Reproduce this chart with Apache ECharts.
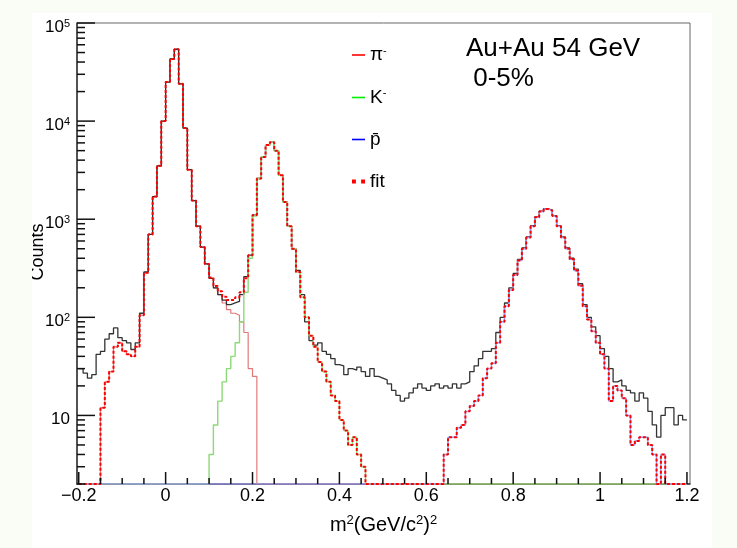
<!DOCTYPE html>
<html>
<head>
<meta charset="utf-8">
<script src="https://cdn.jsdelivr.net/npm/echarts@6/dist/echarts.min.js"></script>
<style>
html, body { margin: 0; padding: 0; background: #fafdf5; }
#chart_1 { width: 737px; height: 548px; }
</style>
</head>
<body>
<div id="chart_1"></div>
<script>
// m^2 histogram, bins of 0.01 from -0.2 to 1.2 (left edges)
const BIN_START = -0.2;
const BIN_WIDTH = 0.01;
const FLOOR = 2; // empty bins drawn on the x axis
const X_MIN = -0.204;
const X_MAX = 1.207;
const Y_MAX = 100000;

const datos = [
30,27,24,26,42,45,60,68,78,62,
58,55,47,55,110,290,700,1700,3500,10000,
25000,43000,54000,24000,8500,3200,1550,850,520,350,
250,200,170,150,135,140,145,170,260,430,
1100,2600,4300,5700,6100,5000,2800,1500,850,500,
300,170,90,58,52,55,45,42,38,33,
32,26,30,29,31,28,25,30,25,24,
23,21,18,16,14,15,17,19,21,19,
18,20,21,19,20,19,21,19,21,22,
28,32,38,45,45,48,70,100,140,200,
280,390,510,660,860,1060,1210,1280,1240,1090,
860,660,510,400,310,220,135,100,80,65,
48,40,30,22,23,20,18,17,14,17,
15,11,8,6,10,12,12,8,10,9];

const pion = [
0,0,0,0,0,12,22,28,50,55,
45,42,40,50,105,285,700,1700,3500,10000,
25000,43000,54000,24000,8500,3200,1550,850,520,350,
250,200,170,140,120,110,105,90,70,30,
25,0,0,0,0,0,0,0,0,0,
0,0,0,0,0,0,0,0,0,0,
0,0,0,0,0,0,0,0,0,0,
0,0,0,0,0,0,0,0,0,0,
0,0,0,0,0,0,0,0,0,0,
0,0,0,0,0,0,0,0,0,0,
0,0,0,0,0,0,0,0,0,0,
0,0,0,0,0,0,0,0,0,0,
0,0,0,0,0,0,0,0,0,0,
0,0,0,0,0,0,0,0,0,0];

const kaon = [
0,0,0,0,0,0,0,0,0,0,
0,0,0,0,0,0,0,0,0,0,
0,0,0,0,0,0,0,0,0,0,
4,8,14,22,30,40,55,90,180,400,
1080,2600,4300,5700,6100,5000,2800,1500,850,500,
290,160,100,65,50,35,28,22,16,14,
9,7,5,6,4,3,0,0,0,0,
0,0,0,0,0,0,0,0,0,0,
0,0,0,0,0,0,0,0,0,0,
0,0,0,0,0,0,0,0,0,0,
0,0,0,0,0,0,0,0,0,0,
0,0,0,0,0,0,0,0,0,0,
0,0,0,0,0,0,0,0,0,0,
0,0,0,0,0,0,0,0,0,0];

const protonbar = [
0,0,0,0,0,0,0,0,0,0,
0,0,0,0,0,0,0,0,0,0,
0,0,0,0,0,0,0,0,0,0,
0,0,0,0,0,0,0,0,0,0,
0,0,0,0,0,0,0,0,0,0,
0,0,0,0,0,0,0,0,0,0,
0,0,0,0,0,0,0,0,0,0,
0,0,0,0,0,0,0,0,0,0,
0,0,0,0,4,6,6,7.5,8,11,
12.5,14,16,24,30,34,55,90,130,190,
270,380,500,650,850,1050,1200,1270,1230,1080,
850,650,500,390,300,210,130,95,72,55,
42,30,14,20,18,15,10,5,5.5,6,
6,5,4,0,4,0,0,0,0,0];

const xMajor = [-0.2, 0, 0.2, 0.4, 0.6, 0.8, 1, 1.2];
const xMinor = [-0.15,-0.1,-0.05,0.05,0.1,0.15,0.25,0.3,0.35,0.45,0.5,0.55,
                0.65,0.7,0.75,0.85,0.9,0.95,1.05,1.1,1.15];
const yMajor = [10, 100, 1000, 10000, 100000];
const yMinor = [2,3,4,5,6,7,8,9,
                20,30,40,50,60,70,80,90,
                200,300,400,500,600,700,800,900,
                2000,3000,4000,5000,6000,7000,8000,9000,
                20000,30000,40000,50000,60000,70000,80000,90000];

const FONT = 'Liberation Sans';

// fit = suma de las tres componentes
const fit = datos.map((d, i) => pion[i] + kaon[i] + protonbar[i]);

function histo(valores) {
    let puntos = [];
    valores.forEach((v, i) => {
        puntos.push([+(BIN_START + i * BIN_WIDTH).toFixed(3), v > 0 ? v : FLOOR]);
    });
    let ultimo = valores[valores.length - 1];
    puntos.push([+(BIN_START + valores.length * BIN_WIDTH).toFixed(3), ultimo > 0 ? ultimo : FLOOR]);
    return puntos;
}

function serie(nombre, valores, color, ancho, tipo, z) {
    return {
        name: nombre,
        type: 'line',
        step: 'end',
        symbol: 'none',
        data: histo(valores),
        lineStyle: { color: color, width: ancho, type: tipo },
        itemStyle: { color: color },
        z: z,
        silent: true
    };
}

const etiquetas = { pi: '{t|π}{s|-}', K: '{t|K}{s|-}', pbar: '{t|p̄}', fit: '{t|fit}' };
const ICONO_LINEA = 'path://M0,0h13v1.6h-13z';
const ICONO_PUNTOS = 'path://M0,0h3v3h-3zM7,0h3v3h-3z';

const fondo = [
    { type: 'rect', z: -10, shape: { x: 32, y: 13, width: 680, height: 535 }, style: { fill: '#ffffff' } },
    { type: 'text', z: 5, x: 47, y: 252, rotation: Math.PI / 2,
      style: { text: 'Counts', font: '18px ' + FONT, fill: '#000', textAlign: 'center', textVerticalAlign: 'bottom' } },
    { type: 'rect', z: 50, shape: { x: 0, y: 0, width: 32, height: 548 }, style: { fill: '#fafdf5' } }
];

let OptionChart1 = {
    animation: false,
    backgroundColor: '#fafdf5',
    textStyle: { fontFamily: FONT },
    graphic: fondo,
    title: {
        text: 'Au+Au 54 GeV\n 0-5%',
        left: 466,
        top: 34,
        padding: 0,
        textStyle: { fontSize: 26, fontWeight: 'normal', lineHeight: 30, color: '#000', fontFamily: FONT }
    },
    legend: {
        orient: 'vertical',
        left: 352,
        top: 45,
        padding: 0,
        itemWidth: 13,
        itemHeight: 14,
        itemGap: 23,
        data: [
            { name: 'pi', icon: ICONO_LINEA, itemStyle: { color: '#ff0000' } },
            { name: 'K', icon: ICONO_LINEA, itemStyle: { color: '#00ee00' } },
            { name: 'pbar', icon: ICONO_LINEA, itemStyle: { color: '#0000ff' } },
            { name: 'fit', icon: ICONO_PUNTOS, itemStyle: { color: '#ff0000' } }
        ],
        formatter: function(name) { return etiquetas[name]; },
        textStyle: {
            color: '#000',
            rich: {
                t: { fontSize: 19, lineHeight: 20, fontFamily: FONT, color: '#000' },
                s: { fontSize: 11, lineHeight: 20, verticalAlign: 'top', fontFamily: FONT, color: '#000' }
            }
        }
    },
    grid: {
        left: 77, right: 47, top: 23, bottom: 64,
        show: true, borderColor: '#666', borderWidth: 1,
        outerBoundsMode: 'none'
    },
    xAxis: {
        type: 'value',
        position: 'bottom',
        min: X_MIN,
        max: X_MAX,
        name: '{b|m}{s|2}{b|(GeV/c}{s|2}{b|)}{s|2}',
        nameLocation: 'middle',
        nameGap: 30,
        nameTextStyle: {
            rich: {
                b: { fontSize: 20, lineHeight: 22, fontFamily: FONT, color: '#000' },
                s: { fontSize: 13, lineHeight: 22, verticalAlign: 'top', fontFamily: FONT, color: '#000' }
            }
        },
        axisLine: { show: true, onZero: false, lineStyle: { color: '#333', width: 1.5 } },
        axisTick: { show: false },
        axisLabel: {
            customValues: xMajor,
            margin: 3,
            fontSize: 18,
            color: '#000',
            fontFamily: FONT,
            formatter: function(v) { return v < 0 ? '\u2212' + String(-v) : String(+v.toFixed(1)); }
        },
        splitLine: { show: false }
    },
    yAxis: {
        type: 'log',
        position: 'left',
        min: FLOOR,
        max: Y_MAX,
        axisLine: { show: true, onZero: false, lineStyle: { color: '#333', width: 1.5 } },
        axisTick: { show: false },
        axisLabel: {
            customValues: yMajor,
            margin: 7,
            padding: [8, 0, 0, 0],
            color: '#000',
            formatter: function(v) {
                let e = Math.round(Math.log10(v));
                return e === 1 ? '{p|10}' : '{b|10}{s|' + e + '}';
            },
            rich: {
                p: { fontSize: 17, lineHeight: 18, fontFamily: FONT, color: '#000' },
                b: { fontSize: 17, lineHeight: 18, fontFamily: FONT, color: '#000' },
                s: { fontSize: 11, lineHeight: 18, verticalAlign: 'top', fontFamily: FONT, color: '#000' }
            }
        },
        splitLine: { show: false }
    },
    series: [
        serie('pi', pion, '#e07a7a', 1.2, 'solid', 2),
        serie('datos', datos, '#333333', 1.3, 'solid', 3),
        serie('K', kaon, '#8cd977', 1.4, 'solid', 4),
        serie('pbar', protonbar, '#9a9af0', 1.4, 'solid', 5),
        serie('fit', fit, '#ff0000', 2, [3, 2], 6)
    ]
};

var myChart = echarts.init(document.getElementById('chart_1'));
myChart.setOption(OptionChart1);

// marcas de los ejes hacia dentro, como en ROOT, situadas con las escalas del grafico
let marcas = [];
function marca(x, y, dx, dy) {
    marcas.push({ type: 'line', z: 20, silent: true,
        shape: { x1: x, y1: y, x2: x + dx, y2: y + dy },
        style: { stroke: '#111', lineWidth: 1.5 } });
}
xMajor.forEach(v => { let p = myChart.convertToPixel({ gridIndex: 0 }, [v, FLOOR]); marca(p[0], p[1], 0, -12); });
xMinor.forEach(v => { let p = myChart.convertToPixel({ gridIndex: 0 }, [v, FLOOR]); marca(p[0], p[1], 0, -6); });
yMajor.forEach(v => { let p = myChart.convertToPixel({ gridIndex: 0 }, [X_MIN, v]); marca(p[0], p[1], 18, 0); });
yMinor.forEach(v => { let p = myChart.convertToPixel({ gridIndex: 0 }, [X_MIN, v]); marca(p[0], p[1], 8, 0); });
myChart.setOption({ graphic: fondo.concat(marcas) });
</script>
</body>
</html>
